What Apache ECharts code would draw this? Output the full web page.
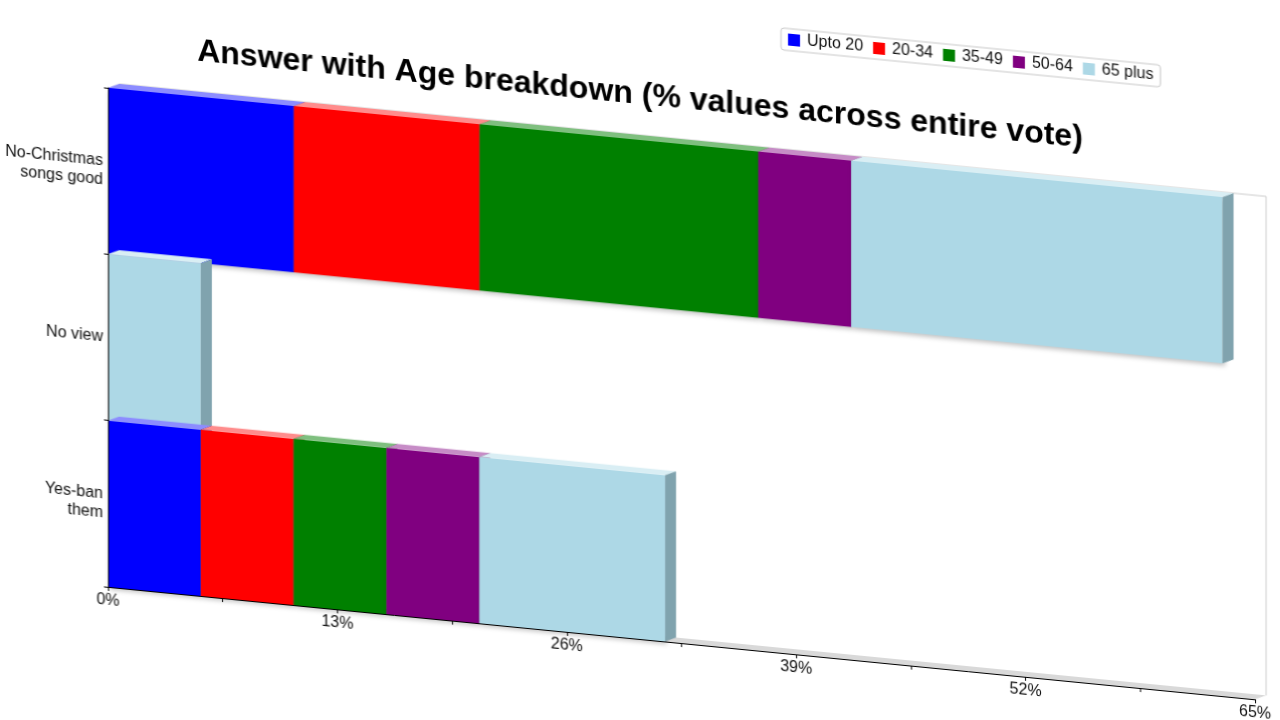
<!DOCTYPE html>
<html>
<head>
<meta charset="utf-8">
<script src="https://cdn.jsdelivr.net/npm/echarts@6/dist/echarts.min.js"></script>
<style>
  html, body { margin: 0; padding: 0; background: #ffffff; overflow: hidden; }
  #chart {
    width: 1280px; height: 720px;
    transform: skewY(5.6deg);
    transform-origin: 640px 360px;
  }
</style>
</head>
<body>
<div id="chart"></div>
<script>
// ---- data ----
const categories = ['No-Christmas\nsongs good', 'No view', 'Yes-ban\nthem'];
const seriesNames = ['Upto 20', '20-34', '35-49', '50-64', '65 plus'];
const upto20 = [10.53, 0, 5.26];
const age2034 = [10.53, 0, 5.26];
const age3549 = [15.79, 0, 5.26];
const age5064 = [5.26, 0, 5.26];
const age65plus = [21.05, 5.26, 10.53];
const xTickLabels = ['0%', '13%', '26%', '39%', '52%', '65%'];
const xMin = 0, xMax = 65, xStep = 6.5;

// ---- styles ----
const frontColors = ['#0000ff', '#ff0000', '#008000', '#800080', '#add8e6'];
const topColors = ['#8c8cff', '#ff8c8c', '#7fbf7f', '#c68cc6', '#d9eef4'];
const sideColors = ['#00008a', '#a00000', '#005000', '#560056', '#80a3ae'];
const DX = 11, DY = -5;

const allValues = [upto20, age2034, age3549, age5064, age65plus];

function stackedData(sIdx) {
  const out = [];
  categories.forEach((c, i) => {
    let start = 0;
    for (let k = 0; k < sIdx; k++) start += allValues[k][i];
    const v = allValues[sIdx][i];
    if (v > 0) out.push([i, start, start + v]);
  });
  return out;
}

function makeBarRender(sIdx) {
  return function (params, api) {
    const cat = api.value(0), s = api.value(1), e = api.value(2);
    const p0 = api.coord([s, cat]);
    const p1 = api.coord([e, cat]);
    const h = api.size([0, 1])[1];
    const top = p0[1] - h / 2, bot = p0[1] + h / 2;
    const x0 = p0[0], x1 = p1[0];
    const z = cat * 10 + sIdx;
    return {
      type: 'group',
      children: [
        {
          type: 'rect', z2: z,
          shape: { x: x0, y: top, width: x1 - x0, height: h },
          style: { fill: frontColors[sIdx], shadowBlur: 5, shadowColor: 'rgba(0,0,0,0.25)', shadowOffsetX: 2, shadowOffsetY: 3 }
        },
        {
          type: 'polygon', z2: z,
          shape: { points: [[x0, top], [x0 + DX, top + DY], [x1 + DX, top + DY], [x1, top]] },
          style: { fill: topColors[sIdx] }
        },
        {
          type: 'polygon', z2: z,
          shape: { points: [[x1, top], [x1 + DX, top + DY], [x1 + DX, bot + DY], [x1, bot]] },
          style: { fill: sideColors[sIdx] }
        }
      ]
    };
  };
}

function renderFrame(params, api) {
  const h = api.size([0, 1])[1];
  const a = api.coord([xMin, 0]);
  const b = api.coord([xMax, categories.length - 1]);
  const xL = a[0], xR = b[0];
  const top = a[1] - h / 2, bot = b[1] + h / 2;
  return {
    type: 'group',
    children: [
      { type: 'polygon', z2: -5,
        shape: { points: [[xL + 0.5, top], [xL + DX, top + DY], [xL + DX, bot + DY], [xL + 0.5, bot]] },
        style: { fill: '#dcdcdc' } },
      { type: 'polygon', z2: -5,
        shape: { points: [[xL, bot], [xR, bot], [xR + DX, bot + DY], [xL + DX, bot + DY]] },
        style: { fill: '#d9d9d9' } },
      { type: 'polyline', z2: -4,
        shape: { points: [[xL + DX, top + DY], [xR + DX, top + DY], [xR + DX, bot + DY]] },
        style: { stroke: '#cccccc', lineWidth: 1, fill: null } }
    ]
  };
}

const chart = echarts.init(document.getElementById('chart'), null, { renderer: 'canvas' });

const series = [{
  type: 'custom',
  name: 'frame',
  renderItem: renderFrame,
  data: [[0, 0, 0]],
  encode: { x: 1, y: 0 },
  silent: true,
  z: 1
}];
seriesNames.forEach((n, i) => {
  series.push({
    type: 'custom',
    name: n,
    renderItem: makeBarRender(i),
    itemStyle: { color: frontColors[i] },
    data: stackedData(i),
    encode: { x: [1, 2], y: 0 },
    z: 2
  });
});

chart.setOption({
  animation: false,
  backgroundColor: '#ffffff',
  textStyle: { fontFamily: 'Liberation Sans, Arial, sans-serif' },
  title: {
    text: 'Answer with Age breakdown (% values across entire vote)',
    left: 'center',
    top: 74,
    textStyle: { fontSize: 32, fontWeight: 'bold', color: '#000000', fontFamily: 'Liberation Sans, Arial, sans-serif' }
  },
  legend: {
    data: seriesNames,
    left: 781,
    top: 14,
    icon: 'rect',
    itemWidth: 12,
    itemHeight: 12,
    itemGap: 10,
    padding: [3, 7, 3, 7],
    backgroundColor: '#ffffff',
    borderColor: '#c8c8c8',
    borderWidth: 1,
    borderRadius: 3,
    textStyle: { fontSize: 16, color: '#111111', padding: [0, 0, 0, 2] }
  },
  grid: { left: 108, right: 25, top: 140, bottom: 81, containLabel: false },
  xAxis: {
    type: 'value',
    min: xMin, max: xMax, interval: xStep,
    z: 10,
    axisLine: { show: true, lineStyle: { color: '#000000', width: 1 } },
    axisTick: { show: true, length: 4, lineStyle: { color: '#000000' } },
    splitLine: { show: false },
    axisLabel: {
      margin: 6,
      fontSize: 16,
      color: '#111111',
      showMinLabel: true,
      showMaxLabel: true,
      formatter: function (v) {
        const k = Math.round(v / xStep);
        return k % 2 === 0 ? xTickLabels[k / 2] : '';
      }
    }
  },
  yAxis: {
    type: 'category',
    data: categories,
    inverse: true,
    z: 10,
    axisLine: { show: true, lineStyle: { color: '#000000', width: 1 } },
    axisTick: { show: true, length: 4, lineStyle: { color: '#000000' } },
    axisLabel: { margin: 5, fontSize: 16, color: '#111111', lineHeight: 19, align: 'right' },
    splitLine: { show: false }
  },
  series: series
});
</script>
</body>
</html>
